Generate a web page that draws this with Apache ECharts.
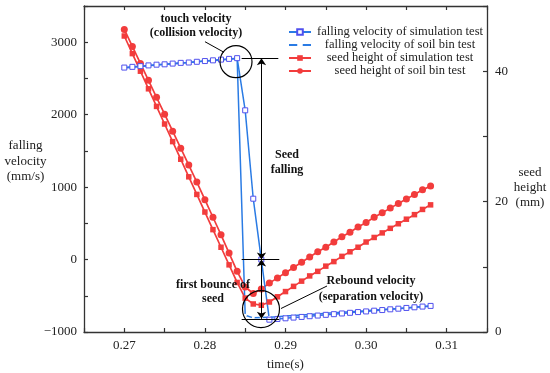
<!DOCTYPE html>
<html>
<head>
<meta charset="utf-8">
<script src="https://cdn.jsdelivr.net/npm/echarts@6/dist/echarts.min.js"></script>
<style>html,body{margin:0;padding:0;background:#fff;}#c{width:550px;height:373px;}</style>
</head>
<body>
<div id="c"></div>
<script>
// time stamps (s)
const times = [0.270,0.271,0.272,0.273,0.274,0.275,0.276,0.277,0.278,0.279,
  0.280,0.281,0.282,0.283,0.284,0.285,0.286,0.287,0.288,0.289,
  0.290,0.291,0.292,0.293,0.294,0.295,0.296,0.297,0.298,0.299,
  0.300,0.301,0.302,0.303,0.304,0.305,0.306,0.307,0.308];
// falling velocity (mm/s)
const velSim = [2650,2660,2670,2680,2690,2695,2705,2715,2720,2730,
  2740,2750,2760,2770,2780,2060,840,0,-830,-820,
  -811,-801,-792,-782,-773,-763,-754,-744,-735,-725,
  -716,-706,-697,-687,-678,-668,-659,-649,-640];
const velBin = [2645,2655,2665,2675,2685,2695,2700,2710,2720,2730,
  2740,2745,2755,2765,2775,-770,-805,-800,-795,-790,
  -780,-772,-765,-757,-750,-742,-735,-727,-720,-712,
  -705,-697,-690,-682,-675,-667,-660,-652,-645];
// seed height (mm)
const hSim = [45.4,42.7,40.0,37.3,34.6,31.9,29.2,26.5,23.8,21.1,
  18.4,15.7,13.0,10.3,7.6,5.2,4.3,4.1,4.6,5.4,
  6.2,7.0,7.8,8.6,9.3,10.1,10.8,11.6,12.3,13.0,
  13.8,14.5,15.2,15.9,16.6,17.3,18.0,18.8,19.5];
const hBin = [46.4,43.8,41.2,38.6,36.0,33.4,30.8,28.2,25.6,23.0,
  20.3,17.6,14.9,12.1,9.3,6.9,5.9,6.6,7.5,8.3,
  9.1,9.9,10.7,11.5,12.3,13.0,13.8,14.6,15.3,16.1,
  16.8,17.6,18.3,19.0,19.7,20.4,21.1,21.8,22.4];
const seriesNames = ['falling velocity of simulation test','falling velocity of soil bin test',
  'seed height of simulation test','seed height of soil bin test'];
const xTickLabels = ['0.27','0.28','0.29','0.30','0.31'];
const yLeftTickLabels = ['−1000','0','1000','2000','3000'];
const yRightTickLabels = ['0','20','40'];

const pair = (xs, ys) => xs.map((x, i) => [x, ys[i]]);
const FONT = 'Liberation Serif';
const BLUE = '#2a7be4', BLUE_MK = '#5050ee', RED = '#f23c3c', AX = '#333';

const chart = echarts.init(document.getElementById('c'), null, {renderer: 'canvas'});

const axisCommon = {
  axisLine: {show: true, onZero: false, lineStyle: {color: AX, width: 1.3}},
  axisTick: {show: true, inside: true, length: 4, lineStyle: {color: AX, width: 1.2}},
  splitLine: {show: false},
  axisLabel: {fontFamily: FONT, fontSize: 13, color: '#222'}
};
const annText = {fontFamily: FONT, fontSize: 12, fontWeight: 'bold', fill: '#111', align: 'center', verticalAlign: 'middle'};
const nameText = {fontFamily: FONT, fontSize: 13, fill: '#222', align: 'center', verticalAlign: 'middle'};

const option = {
  animation: false,
  backgroundColor: '#fff',
  grid: {left: 84, right: 63, top: 6, bottom: 41, containLabel: false, outerBoundsMode: 'none'},
  legend: {
    orient: 'vertical', left: 288, top: 25.5, padding: 0, itemWidth: 22, itemHeight: 7, itemGap: 0,
    data: seriesNames,
    formatter: '{c|{name}}',
    textStyle: {fontFamily: FONT, fontSize: 12.5, color: '#222', lineHeight: 12.8,
      rich: {c: {width: 168, align: 'center', fontFamily: FONT, fontSize: 12.5, color: '#222', lineHeight: 12.8}}}
  },
  xAxis: [
    Object.assign({}, axisCommon, {
      type: 'value', position: 'bottom', min: 0.265, max: 0.315, interval: 0.005,
      name: 'time(s)', nameLocation: 'middle', nameGap: 33,
      nameTextStyle: {fontFamily: FONT, fontSize: 13, color: '#222', verticalAlign: 'middle'},
      axisLabel: Object.assign({}, axisCommon.axisLabel, {margin: 7,
        formatter: v => { const s = v.toFixed(2); const k = Math.round(v * 1000); return (k % 10 === 0 && xTickLabels.includes(s)) ? s : ''; }})
    }),
    Object.assign({}, axisCommon, {
      type: 'value', position: 'top', min: 0.265, max: 0.315, interval: 0.005,
      axisLabel: {show: false}
    })
  ],
  yAxis: [
    Object.assign({}, axisCommon, {
      type: 'value', position: 'left', min: -1000, max: 3500, interval: 500,
      axisLabel: Object.assign({}, axisCommon.axisLabel, {margin: 7,
        formatter: v => { const s = String(v).replace('-', '−'); return yLeftTickLabels.includes(s) ? s : ''; }})
    }),
    Object.assign({}, axisCommon, {
      type: 'value', position: 'right', min: 0, max: 50, interval: 10,
      axisLabel: Object.assign({}, axisCommon.axisLabel, {margin: 8,
        formatter: v => { const s = String(v); return yRightTickLabels.includes(s) ? s : ''; }})
    })
  ],
  series: [
    {
      name: seriesNames[2], type: 'line', xAxisIndex: 0, yAxisIndex: 1, data: pair(times, hSim),
      symbol: 'rect', symbolSize: 5.5, itemStyle: {color: RED}, lineStyle: {color: RED, width: 1.7}
    },
    {
      name: seriesNames[3], type: 'line', xAxisIndex: 0, yAxisIndex: 1, data: pair(times, hBin),
      symbol: 'circle', symbolSize: 7, itemStyle: {color: RED}, lineStyle: {color: RED, width: 1.7}
    },
    {
      name: seriesNames[1], type: 'line', xAxisIndex: 0, yAxisIndex: 0, data: pair(times, velBin),
      symbol: 'circle', symbolSize: 3, itemStyle: {color: '#fff', borderWidth: 0}, lineStyle: {color: BLUE, width: 1.5}
    },
    {
      name: seriesNames[0], type: 'line', xAxisIndex: 0, yAxisIndex: 0, data: pair(times, velSim),
      symbol: 'rect', symbolSize: 5, itemStyle: {color: '#fff', borderColor: BLUE_MK, borderWidth: 1}, lineStyle: {color: BLUE, width: 1.5},
      markLine: {
        silent: true, symbol: 'none', animation: false,
        lineStyle: {color: '#000', width: 1, type: 'solid'}, label: {show: false},
        data: [
          [{coord: [0.28456, 2780]}, {coord: [0.28911, 2780]}],
          [{coord: [0.28456, 0]}, {coord: [0.28923, 0]}],
          [{coord: [0.28456, -818]}, {coord: [0.28923, -818]}],
          [{coord: [0.28702, 2780], symbol: 'arrow', symbolSize: 7}, {coord: [0.28702, 0], symbol: 'arrow', symbolSize: 7}],
          [{coord: [0.28702, 0], symbol: 'arrow', symbolSize: 7}, {coord: [0.28702, -818], symbol: 'arrow', symbolSize: 7}],
          [{coord: [0.28001, 3007]}, {coord: [0.28237, 2861]}],
          [{coord: [0.29515, -365]}, {coord: [0.28944, -676]}]
        ]
      },
      markPoint: {
        silent: true, animation: false, symbol: 'circle', label: {show: false},
        itemStyle: {color: 'rgba(0,0,0,0)', borderColor: '#000', borderWidth: 1.2},
        data: [
          {coord: [0.28386, 2731], symbolSize: 32},
          {coord: [0.28696, -683], symbolSize: 37}
        ]
      }
    }
  ],
  graphic: [
    {type: 'text', z: 100, x: 25.5, y: 161.5, style: Object.assign({text: 'falling\nvelocity\n(mm/s)', lineHeight: 15.5}, nameText)},
    {type: 'text', z: 100, x: 530, y: 187.7, style: Object.assign({text: 'seed\nheight\n(mm)', lineHeight: 15}, nameText)},
    {type: 'text', z: 100, x: 196, y: 26, style: Object.assign({text: 'touch velocity\n(collision velocity)', lineHeight: 14.7}, annText)},
    {type: 'text', z: 100, x: 287, y: 162.5, style: Object.assign({text: 'Seed\nfalling', lineHeight: 15}, annText)},
    {type: 'text', z: 100, x: 213, y: 292, style: Object.assign({text: 'first bounce of\nseed', lineHeight: 14}, annText)},
    {type: 'text', z: 100, x: 371, y: 289, style: Object.assign({text: 'Rebound velocity\n(separation velocity)', lineHeight: 15.5}, annText)}
  ]
};
chart.setOption(option);
</script>
</body>
</html>
